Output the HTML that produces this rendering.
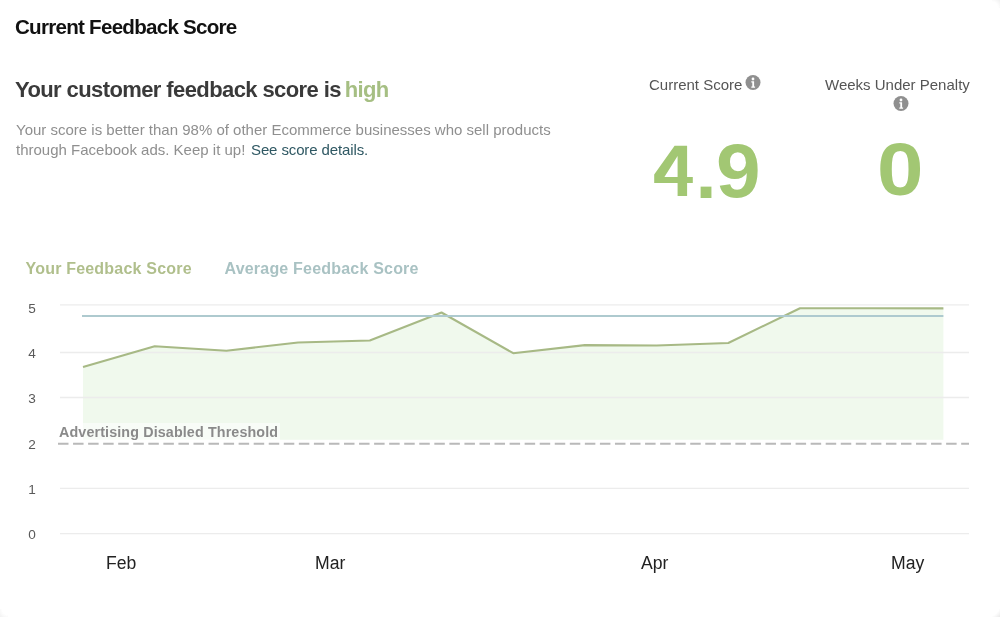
<!DOCTYPE html>
<html><head><meta charset="utf-8">
<style>
*{margin:0;padding:0;box-sizing:border-box}
html,body{width:1000px;height:617px;background:#fff;overflow:hidden;font-family:"Liberation Sans",sans-serif}
body{filter:blur(0.35px)}
.abs{position:absolute;white-space:nowrap;line-height:1}
#t1{left:15px;top:17px;font-size:20.6px;letter-spacing:-0.75px;font-weight:bold;color:#111}
#t2{left:15px;top:79px;font-size:22px;font-weight:bold;color:#3a3a3a;letter-spacing:-0.6px}
#t2 span{color:#a6bf83;margin-left:-1.7px}
#p{left:16px;top:120px;font-size:15px;line-height:20.3px;color:#8f8f8f}
#p a{color:#2f5863;text-decoration:none;margin-left:1.5px;letter-spacing:-0.12px}
.lbl{font-size:15px;color:#555}
.big{font-size:76px;font-weight:bold;color:#a2c773}
.leg{font-size:16px;font-weight:bold;letter-spacing:0.2px}
.ya{font-size:13.6px;color:#5a5a5a}
.xa{font-size:17.6px;color:#222}
</style></head><body>
<div class="abs" id="t1">Current Feedback Score</div>
<div class="abs" id="t2">Your customer feedback score is <span>high</span></div>
<div class="abs" id="p" style="line-height:20.3px">Your score is better than 98% of other Ecommerce businesses who sell products<br>through Facebook ads. Keep it up! <a>See score details.</a></div>

<div class="abs lbl" style="left:649px;top:77px">Current Score</div>
<div class="abs lbl" style="left:825px;top:77px">Weeks Under Penalty</div>
<svg class="abs" style="left:745px;top:75px" width="16" height="16" viewBox="0 0 16 16">
  <circle cx="8" cy="7.5" r="7.5" fill="#8f8f8f"/>
  <circle cx="8" cy="4" r="1.4" fill="#fff"/>
  <path d="M6.3 6.3h2.8v5.2h1v1.3H6.3v-1.3h1v-3.9h-1z" fill="#fff"/>
</svg>
<svg class="abs" style="left:893px;top:96px" width="16" height="16" viewBox="0 0 16 16">
  <circle cx="8" cy="7.5" r="7.5" fill="#8f8f8f"/>
  <circle cx="8" cy="4" r="1.4" fill="#fff"/>
  <path d="M6.3 6.3h2.8v5.2h1v1.3H6.3v-1.3h1v-3.9h-1z" fill="#fff"/>
</svg>
<svg class="abs" style="left:0;top:0" width="1000" height="617"><path fill="#a2c773" fill-rule="evenodd" d="M674.6 145.7H687.1V176.9H692.8V183H687.1V196.1H677.6V183H654.2V174.4ZM677.6 156L664.4 176.9H677.6Z"/></svg>
<div class="abs big" style="left:695.5px;top:133.8px">.</div>
<div class="abs big" style="left:716.2px;top:133.3px;transform:scaleX(1.055);transform-origin:0 0">9</div>
<div class="abs big" style="left:876.6px;top:131.6px;transform:scaleX(1.1) scaleY(0.985);transform-origin:0 0">0</div>


<div class="abs leg" style="left:25.5px;top:261px;color:#b0bf8c">Your Feedback Score</div>
<div class="abs leg" style="left:224.5px;top:261px;color:#a9c2c3">Average Feedback Score</div>

<svg class="abs" style="left:0;top:0" width="1000" height="617">
  <polygon fill="#f0f9ed" points="83,367 154.7,346.2 226.4,350.7 298.1,342.5 369.8,340.5 441.5,312.5 513.2,353.2 584.9,345.1 656.6,345.5 728.3,343 800,308.2 871.7,308.3 943.4,308.4 943.4,439.8 83,439.8"/>
  <g stroke="#ececec" stroke-width="1.3">
    <line x1="60" y1="304.8" x2="969" y2="304.8"/>
    <line x1="60" y1="352.5" x2="969" y2="352.5"/>
    <line x1="60" y1="397.5" x2="969" y2="397.5"/>
    <line x1="60" y1="488.3" x2="969" y2="488.3"/>
    <line x1="60" y1="533.7" x2="969" y2="533.7"/>
  </g>
  <polyline fill="none" stroke="#a7b985" stroke-width="2.1" stroke-linejoin="round" points="83,367 154.7,346.2 226.4,350.7 298.1,342.5 369.8,340.5 441.5,312.5 513.2,353.2 584.9,345.1 656.6,345.5 728.3,343 800,308.2 871.7,308.3 943.4,308.4"/>
  <line x1="82" y1="316" x2="943.4" y2="316" stroke="#aecacf" stroke-width="1.9"/>
  <line x1="58" y1="443.7" x2="969" y2="443.7" stroke="#b9b9b9" stroke-width="2" stroke-dasharray="10.5,4.553"/>
</svg>
<div class="abs" style="left:57px;top:422.5px;padding:2px 2px 3px 2px;font-size:14.3px;font-weight:bold;color:#8a8a8a;letter-spacing:0.13px;background:rgba(255,255,255,0.55)">Advertising Disabled Threshold</div>

<div class="abs ya" style="left:28.3px;top:301.5px">5</div>
<div class="abs ya" style="left:28.3px;top:346.8px">4</div>
<div class="abs ya" style="left:28.3px;top:391.8px">3</div>
<div class="abs ya" style="left:28.3px;top:437.5px">2</div>
<div class="abs ya" style="left:28.3px;top:482.5px">1</div>
<div class="abs ya" style="left:28.3px;top:527.8px">0</div>

<div class="abs xa" style="left:106px;top:555px">Feb</div>
<div class="abs xa" style="left:315px;top:555px">Mar</div>
<div class="abs xa" style="left:641px;top:555px">Apr</div>
<div class="abs xa" style="left:891px;top:555px">May</div>
<div style="position:absolute;left:986px;top:603px;width:14px;height:14px;background:radial-gradient(circle at 0 0,#fff 14.5px,#e8e8e8 20px)"></div>
<div style="position:absolute;left:0;top:609px;width:8px;height:8px;background:radial-gradient(circle at 100% 0,#fff 6px,#f2f2f2 11px)"></div>
<div style="position:absolute;left:992px;top:0;width:8px;height:8px;background:radial-gradient(circle at 0 100%,#fff 6px,#f1f1f1 11px)"></div>
</body></html>
